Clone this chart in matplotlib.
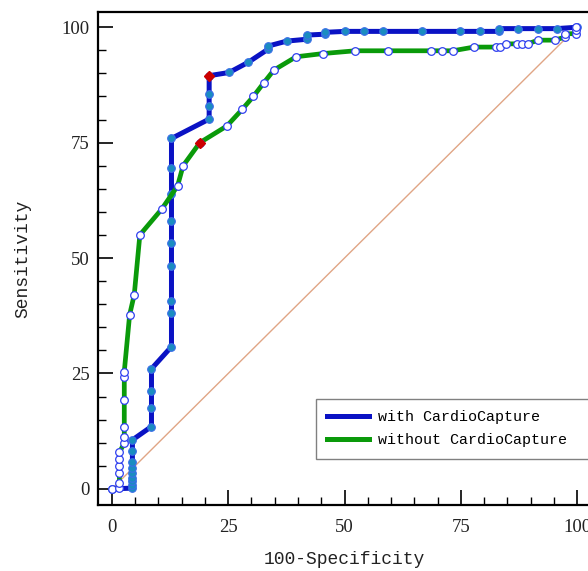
import matplotlib
matplotlib.use("Agg")
import matplotlib.pyplot as plt

# ---- data ----
with_x = [0, 4.4, 4.4, 4.4, 4.4, 4.4, 4.4, 4.4, 4.4, 4.4, 8.5, 8.5, 8.5, 8.5,
          12.8, 12.8, 12.8, 12.8, 12.8, 12.8, 12.8, 12.8, 12.8, 20.9, 20.9, 20.9,
          20.9, 25.2, 29.3, 33.5, 33.5, 37.6, 41.9, 41.9, 45.9, 45.9, 50.1, 54.3,
          58.2, 66.7, 74.9, 79.1, 83.2, 83.2, 87.3, 91.5, 95.6, 100]
with_y = [0, 0.15, 0.9, 1.6, 2.3, 3.4, 4.5, 5.9, 8.1, 10.6, 13.5, 17.6, 21.1, 26.0,
          30.8, 38.0, 40.8, 48.3, 53.2, 58.1, 63.8, 69.4, 75.9, 80.1, 83.0, 85.6,
          89.5, 90.2, 92.4, 95.2, 95.9, 97.0, 97.4, 98.3, 98.5, 98.9, 99.1, 99.1,
          99.1, 99.1, 99.1, 99.1, 99.1, 99.7, 99.7, 99.7, 99.7, 100]
without_x = [0, 1.6, 1.6, 1.6, 1.6, 1.6, 1.6, 2.65, 2.65, 2.65, 2.65, 2.65, 2.65,
             3.8, 4.8, 6.0, 10.7, 14.1, 15.3, 18.9, 24.7, 28.0, 30.4, 32.6, 34.8,
             39.6, 45.4, 52.3, 59.3, 68.6, 70.9, 73.3, 77.8, 82.5, 83.5, 84.7, 87.0,
             88.2, 89.4, 91.6, 95.3, 97.4, 97.4, 99.8, 99.8, 99.8]
without_y = [0, 0.2, 1.2, 3.4, 5.0, 6.4, 7.9, 9.9, 11.3, 13.5, 19.3, 24.2, 25.4,
             37.7, 42.1, 55.0, 60.6, 65.6, 70.0, 75.0, 78.6, 82.2, 85.0, 87.9, 90.7,
             93.6, 94.3, 94.9, 94.9, 94.9, 94.9, 94.9, 95.7, 95.7, 95.7, 96.4, 96.4,
             96.4, 96.4, 97.2, 97.2, 97.9, 98.6, 98.6, 99.4, 100]
with_cut = (20.9, 89.5)
without_cut = (18.9, 75.0)
diag = [0, 100]
ticks = [0, 25, 50, 75, 100]
labels = ["with CardioCapture", "without CardioCapture"]

fig = plt.figure(figsize=(5.88, 5.71), dpi=100)
ax = fig.add_axes([98/588, 66/571, 493/588, 493/571])

ax.plot(diag, diag, color="#e0a585", lw=1.0, zorder=1)

ax.plot(with_x, with_y, color="#0a12c4", lw=3.6, marker="o", ms=5.5,
        mfc="#1a8cc0", mec="#3a6ee8", mew=0.8, zorder=3, label=labels[0])
ax.plot(without_x, without_y, color="#0a9a0a", lw=3.4, marker="o", ms=5.5,
        mfc="white", mec="#3040f0", mew=0.9, zorder=4, label=labels[1])
ax.plot([with_cut[0]], [with_cut[1]], marker="D", ms=5.5, color="#cc0000",
        ls="none", zorder=5)
ax.plot([without_cut[0]], [without_cut[1]], marker="D", ms=5.5, color="#cc0000",
        ls="none", zorder=5)

ax.set_xlim(-3, 103)
ax.set_ylim(-3.5, 103.3)
ax.set_xticks(ticks)
ax.set_yticks(ticks)
ax.set_xticks(range(0, 101, 5), minor=True)
ax.set_yticks(range(0, 101, 5), minor=True)
ax.tick_params(which="major", direction="in", length=11, width=1.2, pad=6,
               labelsize=13.5)
ax.tick_params(axis="x", which="major", pad=10)
ax.tick_params(which="minor", direction="in", length=5.5, width=1.0)
for lab in ax.get_xticklabels() + ax.get_yticklabels():
    lab.set_family("Liberation Serif")
    lab.set_color("#222222")
for s in ax.spines.values():
    s.set_linewidth(1.6)

ax.set_xlabel("100-Specificity", family="Liberation Mono", fontsize=13,
              labelpad=11, color="#222222")
ax.set_ylabel("Sensitivity", family="Liberation Mono", fontsize=13,
              labelpad=22, color="#222222")

leg = ax.legend(loc="upper left", bbox_to_anchor=(0.442, 0.215, 0.62, 0),
                mode="expand", borderaxespad=0, fancybox=False,
                edgecolor="#808080", framealpha=1, handlelength=2.8,
                handletextpad=0.6, borderpad=0.75, labelspacing=0.6,
                prop={"family": "Liberation Mono", "size": 10.8})
leg.get_frame().set_linewidth(1.0)
for h in leg.get_lines():
    h.set_marker("")
    h.set_linewidth(3.6)

fig.savefig("out.png", dpi=100)
